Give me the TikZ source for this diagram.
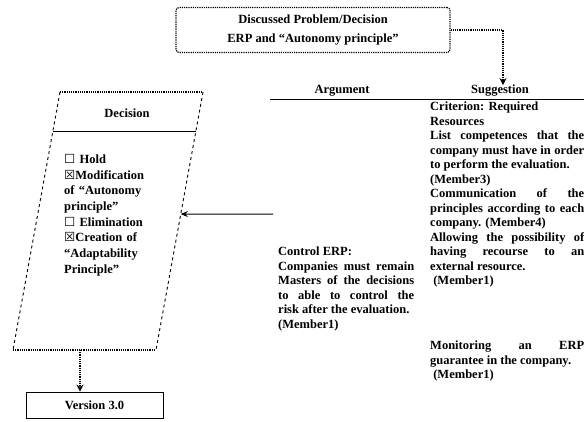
\documentclass[tikz,border=0pt]{standalone}
\usepackage{fontspec}
\setmainfont{Liberation Serif}
\newfontfamily\chkfont{DejaVu Sans}
\usetikzlibrary{arrows.meta, calc}
\hyphenpenalty=10000
\tikzset{
    probbox/.style={draw, densely dotted, line width=1.2pt, rounded corners=3pt, minimum width=274pt, minimum height=45pt, align=center, font=\bfseries\fontsize{12.5}{19}\selectfont},
    verbox/.style={draw, line width=0.9pt, minimum width=137pt, minimum height=26pt, font=\bfseries\fontsize{12.5}{14}\selectfont},
    colhead/.style={inner sep=0pt, font=\bfseries\fontsize{12.5}{14}\selectfont},
    celltext/.style={anchor=north west, inner sep=0pt, align=justify, font=\bfseries\fontsize{12.5}{14.5}\selectfont},
    dotarrow/.style={densely dotted, line width=1.2pt, -{Stealth[length=7pt, width=7pt]}}
}
\newcommand{\emptychk}{{\chkfont\char"2610}}
\newcommand{\crosschk}{{\chkfont\char"2612}}

\begin{document}
\begin{tikzpicture}[x=1pt, y=-1pt]
    \useasboundingbox (0,0) rectangle (584,421);

    % discussed problem
    \node[probbox] (prob) at (313,30) {Discussed Problem/Decision\\ERP and ``Autonomy principle''};

    % table of arguments and suggestions
    \node[colhead] (arghead) at (342,91) {Argument};
    \node[colhead] (sughead) at (500,91) {Suggestion};
    \coordinate (ruleL) at (270,99);
    \coordinate (ruleR) at (584,99);
    \draw[line width=1pt] (ruleL) -- (ruleR);
    \draw[dotarrow] (prob.east) -| ([xshift=3pt]sughead.north);

    \node[celltext, text width=154pt] (sugtext) at (430,102) {Criterion: Required\\Resources\par
        List competences that the\linebreak company must have in order\linebreak to perform the evaluation.\par
        (Member3)\par
        Communication of the\linebreak principles according to each\linebreak company. (Member4)\par
        Allowing the possibility of\linebreak having recourse to an\linebreak external resource.\par
        \ (Member1)};
    \node[celltext, text width=154pt] (sugmon) at (430,341) {Monitoring an ERP\linebreak guarantee in the company.\par
        \ (Member1)};
    \node[celltext, text width=136pt] (argtext) at (278,247) {Control ERP:\par
        Companies must remain\linebreak Masters of the decisions\linebreak to able to control the\linebreak risk after the evaluation.\par
        (Member1)};

    % decision
    \coordinate (dtl) at (60,92);
    \coordinate (dtr) at (203,92);
    \coordinate (dbr) at (156,350);
    \coordinate (dbl) at (13,350);
    \draw[densely dotted, line width=1.2pt] (dtl) -- (dtr);
    \draw[densely dotted, line width=1.2pt] (dbl) -- (dbr);
    \draw[dashed, line width=0.9pt] (dtl) -- (dbl);
    \draw[dashed, line width=0.9pt] (dtr) -- (dbr);
    \draw[line width=1pt] ($(dtl)!0.155!(dbl)$) -- ($(dtr)!0.155!(dbr)$);
    \node[colhead] (dechead) at (127,113) {Decision};
    \node[celltext, text width=92pt, align=left, font=\bfseries\fontsize{12.5}{15.7}\selectfont] (decitems) at (64,154) {\emptychk{} Hold\\
        \crosschk Modification of ``Autonomy principle''\\
        \emptychk{} Elimination\\
        \crosschk Creation of ``Adaptability Principle''};
    \coordinate (decR) at ($(dtr)!0.473!(dbr)$);
    \coordinate (argstart) at (273,214);
    \draw[line width=1pt, -{Stealth[length=7pt, width=6pt]}] (argstart) -- (decR);

    % new version
    \node[verbox] (ver) at (94.5,405) {Version 3.0};
    \coordinate (decB) at (80,350);
    \draw[dotarrow] (decB) -- (decB |- ver.north);
\end{tikzpicture}
\end{document}
